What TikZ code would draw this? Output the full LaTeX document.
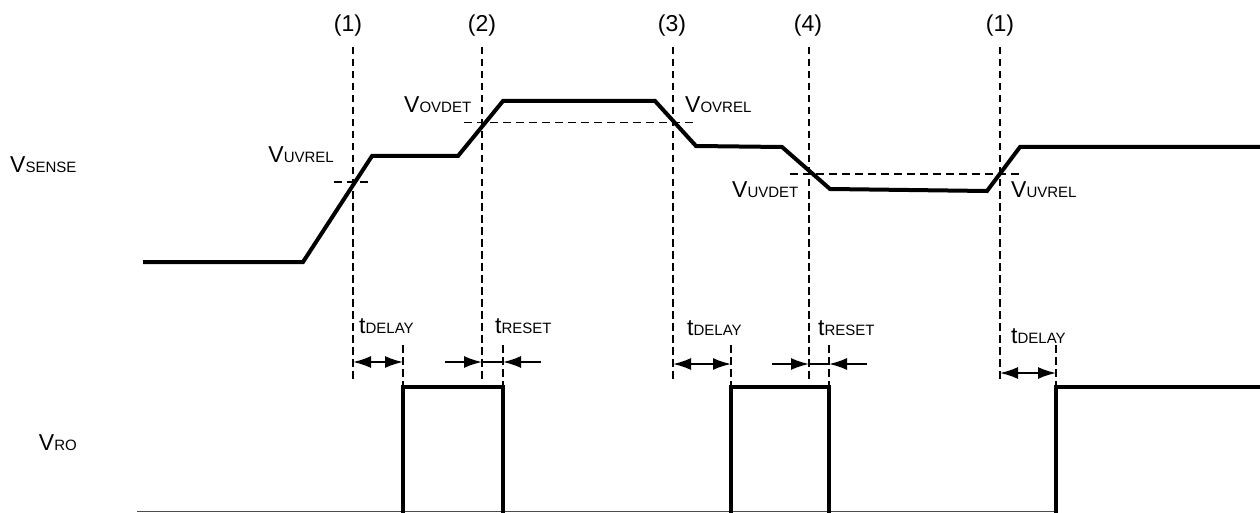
\documentclass[tikz,border=0pt]{standalone}
\usepackage{fontspec}
\setmainfont{Liberation Sans}
\usetikzlibrary{arrows.meta}
\newcommand{\sig}[2]{#1{\fontsize{15}{15}\selectfont #2}}
\tikzset{
  wave/.style={line width=4pt},
  lowline/.style={line width=1.5pt,black!70},
  guide/.style={line width=1.5pt,dash pattern=on 7.5pt off 4.5pt},
  level/.style={line width=1.5pt,dash pattern=on 8pt off 5pt},
  span/.style={line width=1.8pt,{Latex[length=18pt,width=12pt]}-{Latex[length=18pt,width=12pt]}},
  pin/.style={line width=1.8pt,-{Latex[length=18pt,width=12pt]}},
  lbl/.style={anchor=base west,inner sep=0pt}
}
\begin{document}
\begin{tikzpicture}[x=1pt,y=-1pt,font=\fontsize{23}{23}\selectfont]
\useasboundingbox (0,0) rectangle (1260,513);
% signal names
\node[lbl] (vsense) at (10,173) {\sig{V}{SENSE}};
\node[lbl,anchor=base east] (vro) at (77,450) {\sig{V}{RO}};
% event markers
\foreach \x/\lx/\n/\t in {353/348/a/1,482/482/b/2,673/672/c/3,809/808/d/4,1000/1000/e/1}{
  \node (m\n) at (\lx,26) {(\t)};
  \coordinate (top\n) at (\x,47);
  \coordinate (bot\n) at (\x,382);
  \draw[guide] (top\n) -- (bot\n);}
\foreach \x in {403,503,731,829,1056}
  \draw[guide] (\x,345) -- (\x,387);
% thresholds
\draw[level] (334,182) -- (372,182);
\draw[level] (464,122.5) -- (693,122.5);
\draw[level] (790,174) -- (1019,174);
\node[lbl,anchor=base east] (uvrel1) at (334,163) {\sig{V}{UVREL}};
\node[lbl] (ovdet) at (404,113) {\sig{V}{OVDET}};
\node[lbl] (ovrel) at (685,113) {\sig{V}{OVREL}};
\node[lbl] (uvdet) at (732,197) {\sig{V}{UVDET}};
\node[lbl] (uvrel2) at (1011,197) {\sig{V}{UVREL}};
% sense
\draw[wave] (143,262) -- (303,262) -- (372,156) -- (458,156) -- (503,101) -- (655,101)
  -- (696,146) -- (782,147) -- (830,189) -- (987,191) -- (1020,147) -- (1260,147);
% ro
\draw[lowline] (137,511.5) -- (1056,511.5);
\draw[wave] (403,513) -- (403,387) -- (503,387) -- (503,513);
\draw[wave] (731,513) -- (731,387) -- (829,387) -- (829,513);
\draw[wave] (1056,513) -- (1056,387) -- (1260,387);
% timing
\path (353,362) coordinate (d1a) (403,362) coordinate (d1b)
      (673,364) coordinate (d2a) (731,364) coordinate (d2b)
      (1000,373) coordinate (d3a) (1056,373) coordinate (d3b);
\draw[span] (d1a) -- (d1b);
\draw[span] (d2a) -- (d2b);
\draw[span] (d3a) -- (d3b);
\path (445,362) coordinate (r1a) (482,362) coordinate (r1b)
      (503,362) coordinate (r1c) (541,362) coordinate (r1d)
      (772,364) coordinate (r2a) (809,364) coordinate (r2b)
      (829,364) coordinate (r2c) (867,364) coordinate (r2d);
\foreach \r in {r1,r2}{
  \draw[pin] (\r a) -- (\r b);
  \draw[line width=1.8pt] (\r b) -- (\r c);
  \draw[pin] (\r d) -- (\r c);}
\node[lbl] (td1) at (359,333) {\sig{t}{DELAY}};
\node[lbl] (tr1) at (495,333) {\sig{t}{RESET}};
\node[lbl] (td2) at (687,335) {\sig{t}{DELAY}};
\node[lbl] (tr2) at (818,335) {\sig{t}{RESET}};
\node[lbl] (td3) at (1011,343) {\sig{t}{DELAY}};
\end{tikzpicture}
\end{document}
